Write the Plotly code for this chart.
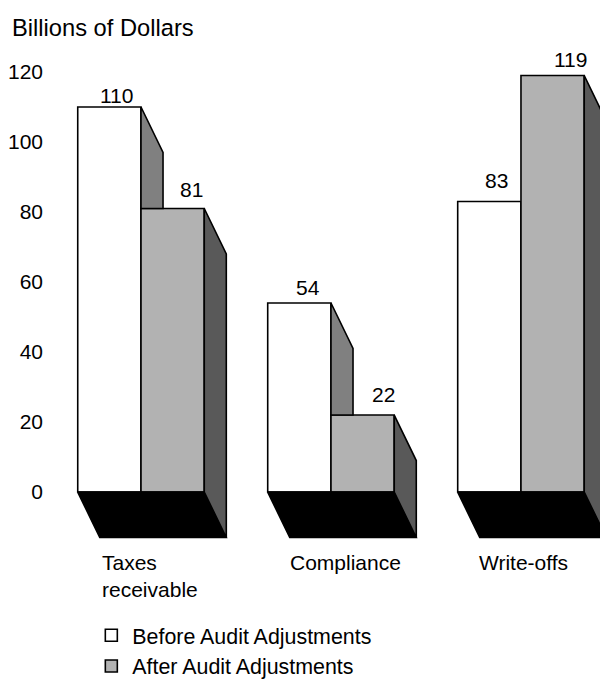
import plotly.graph_objects as go

categories = ["Taxes<br>receivable", "Compliance", "Write-offs"]
before_values = [110, 54, 83]
after_values = [81, 22, 119]
y_ticks = [0, 20, 40, 60, 80, 100, 120]
series_names = ["Before Audit Adjustments", "After Audit Adjustments"]

FONT = "Liberation Sans"
SIZE = 21
W = 0.333      # bar width in group units
DX = 0.116     # depth offset along x
DY = 13.0      # depth offset along y
BLACK = "#000000"
LW = 1.6
LABEL_NUDGE = [0.047, 0.074, 0.011]
# pixel nudges that place each value label where the reference has it
BEFORE_SHIFT = [(-0.5, -1.5), (1, 2.5), (0, 7.5)]
AFTER_SHIFT = [(-0.5, 5.5), (2, 7.5), (-1, 2.5)]
positions = list(range(len(categories)))

fig = go.Figure()

# fronts of the bars
fig.add_trace(go.Bar(x=positions, y=before_values, width=W, offset=-W, name=series_names[0],
                     marker=dict(color="#ffffff", line=dict(color=BLACK, width=LW))))
fig.add_trace(go.Bar(x=positions, y=after_values, width=W, offset=0, name=series_names[1],
                     marker=dict(color="#b2b2b2", line=dict(color=BLACK, width=LW))))


def poly(xs, ys, color):
    fig.add_trace(go.Scatter(x=xs + xs[:1], y=ys + ys[:1], mode="lines", fill="toself",
                             fillcolor=color, line=dict(color=BLACK, width=LW),
                             showlegend=False, hoverinfo="skip"))


for p, b, a in zip(positions, before_values, after_values):
    # floor
    poly([p - W, p + W, p + W + DX, p - W + DX], [0, 0, -DY, -DY], BLACK)
    # side of the front bar, visible only above the neighbour
    if b > a:
        poly([p, p + DX, p + DX, p], [b, b - DY, a, a], "#808080")
    # side of the second bar
    poly([p + W, p + W + DX, p + W + DX, p + W], [a, a - DY, -DY, 0], "#595959")

annotations = [dict(text="Billions of Dollars", xref="paper", yref="paper", x=-0.0645, y=0.9585,
                    xanchor="left", yanchor="middle", showarrow=False,
                    font=dict(family=FONT, size=23.7, color=BLACK))]
for p, b, a, c, n, bs, s in zip(positions, before_values, after_values, categories, LABEL_NUDGE,
                                BEFORE_SHIFT, AFTER_SHIFT):
    annotations.append(dict(x=p - W / 2 + 0.04, y=b, text=str(b), yanchor="bottom",
                            xshift=bs[0], yshift=bs[1],
                            showarrow=False, font=dict(family=FONT, size=SIZE, color=BLACK)))
    annotations.append(dict(x=p + W / 2 + 0.1, y=a, text=str(a), yanchor="bottom",
                            xshift=s[0], yshift=s[1],
                            showarrow=False, font=dict(family=FONT, size=SIZE, color=BLACK)))
    annotations.append(dict(x=p + n, y=-DY, text=c, align="left", xanchor="center", yanchor="top",
                            yshift=-11, showarrow=False,
                            font=dict(family=FONT, size=SIZE, color=BLACK)))

fig.update_layout(
    width=600, height=680, autosize=False,
    margin=dict(l=46, r=0, t=0, b=0, pad=0, autoexpand=False),
    paper_bgcolor="#ffffff", plot_bgcolor="#ffffff",
    barmode="overlay", showlegend=True,
    font=dict(family=FONT, size=SIZE, color=BLACK),
    xaxis=dict(range=[-0.5, 2.416], visible=False, fixedrange=True),
    yaxis=dict(range=[-53.7, 140.57], tickmode="array", tickvals=y_ticks, ticks="",
               showgrid=False, zeroline=False, showline=False, ticklabelstandoff=2,
               tickfont=dict(family=FONT, size=SIZE, color=BLACK), fixedrange=True),
    legend=dict(x=0.08, y=-0.01, xanchor="left", yanchor="bottom", orientation="v",
                font=dict(family=FONT, size=21.4, color=BLACK),
                bgcolor="rgba(0,0,0,0)", traceorder="normal", tracegroupgap=0,
                itemwidth=32),
    annotations=annotations,
)

fig.write_html("out.html", post_script="document.body.style.margin='0';",
               config=dict(displayModeBar=False))
